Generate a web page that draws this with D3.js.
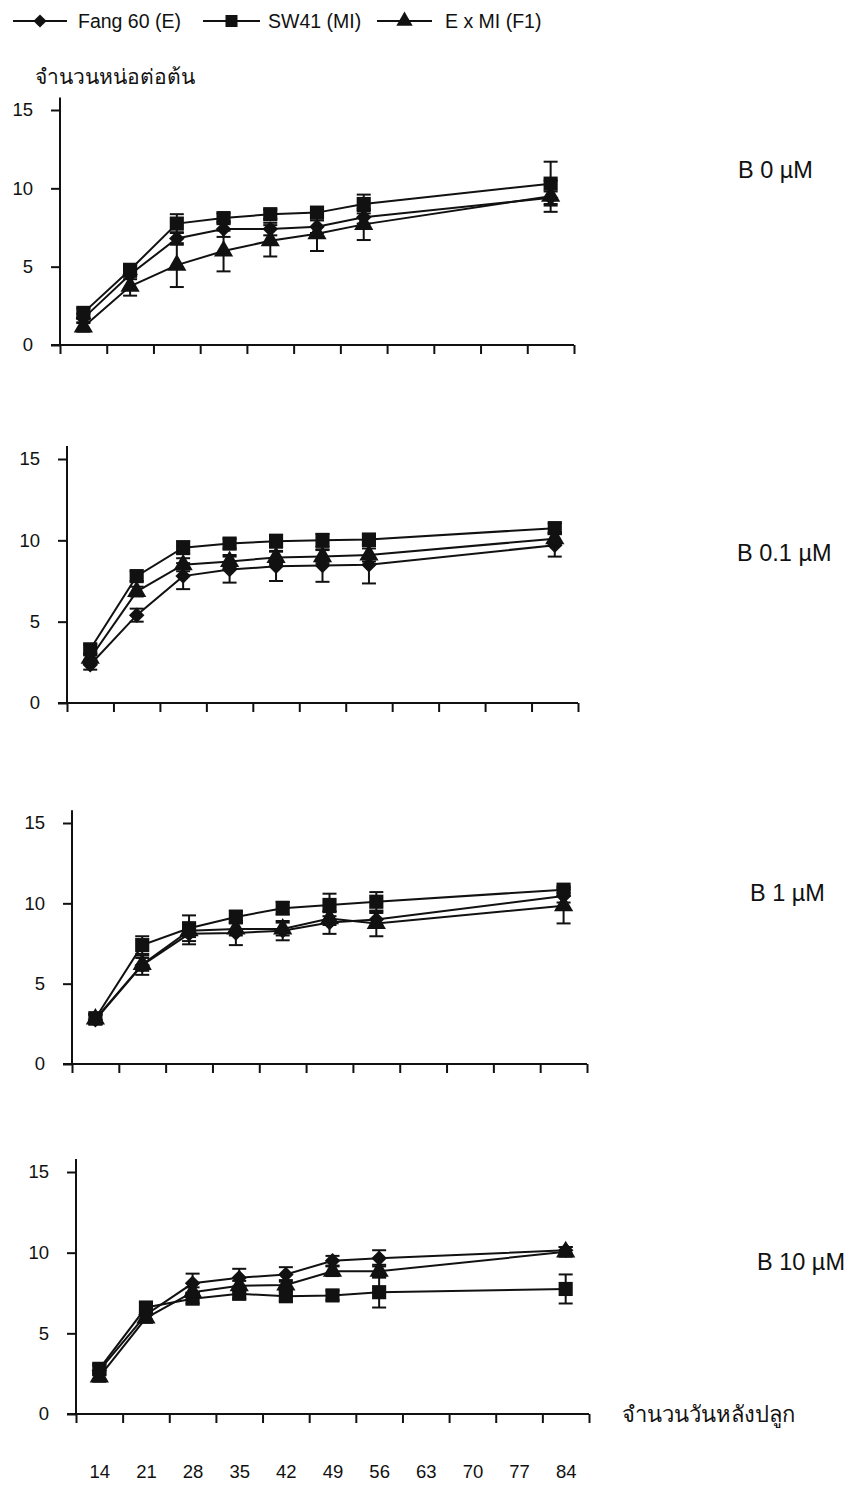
<!DOCTYPE html>
<html>
<head>
<meta charset="utf-8">
<script src="https://cdn.jsdelivr.net/npm/d3@7"></script>
<style>
  body { margin: 0; background: #fff; }
  text { font-family: "Liberation Sans", Arial, sans-serif; fill: #111; }
  .thai { font-family: "Noto Sans", "DejaVu Sans", sans-serif; }
</style>
</head>
<body>
<div id="chart"></div>
<script>
// x axis categories (days after planting) and the days that were measured
const days = [14, 21, 28, 35, 42, 49, 56, 63, 70, 77, 84];
const measured = [14, 21, 28, 35, 42, 49, 56, 84];

const seriesNames = ["Fang 60 (E)", "SW41 (MI)", "E x MI (F1)"];
const panelLabels = ["B 0 \u00b5M", "B 0.1 \u00b5M", "B 1 \u00b5M", "B 10 \u00b5M"];
const yTicks = [0, 5, 10, 15];

// B 0 uM
const b0Fang = [1.7, 4.5, 6.8, 7.4, 7.4, 7.55, 8.15, 9.4];
const b0Sw41 = [2.05, 4.8, 7.75, 8.1, 8.35, 8.45, 9.0, 10.3];
const b0F1 = [1.15, 3.75, 5.1, 6.0, 6.65, 7.1, 7.7, 9.5];
const b0FangErr = [0.3, 0.3, 0.4, 0.5, 0.4, 0.4, 0.4, 0.4];
const b0Sw41Err = [0.3, 0.3, 0.6, 0.3, 0.3, 0.3, 0.6, 1.4];
const b0F1Err = [0.3, 0.6, 1.4, 1.3, 1.0, 1.1, 1.0, 1.0];

// B 0.1 uM
const b01Fang = [2.35, 5.4, 7.8, 8.2, 8.4, 8.45, 8.5, 9.7];
const b01Sw41 = [3.3, 7.8, 9.55, 9.8, 9.95, 10.0, 10.05, 10.75];
const b01F1 = [2.75, 6.85, 8.5, 8.7, 8.95, 9.0, 9.1, 10.1];
const b01FangErr = [0.3, 0.4, 0.8, 0.8, 0.9, 1.0, 1.15, 0.7];
const b01Sw41Err = [0.3, 0.3, 0.4, 0.3, 0.4, 0.4, 0.3, 0.3];
const b01F1Err = [0.3, 0.3, 0.4, 0.4, 0.4, 0.4, 0.4, 0.4];

// B 1 uM
const b1Fang = [2.75, 6.15, 8.1, 8.15, 8.3, 8.8, 9.0, 10.45];
const b1Sw41 = [2.85, 7.4, 8.45, 9.15, 9.7, 9.9, 10.1, 10.85];
const b1F1 = [2.8, 6.2, 8.3, 8.4, 8.4, 9.05, 8.75, 9.85];
const b1FangErr = [0.3, 0.6, 0.65, 0.75, 0.6, 0.7, 0.4, 0.4];
const b1Sw41Err = [0.3, 0.55, 0.8, 0.4, 0.4, 0.7, 0.6, 0.2];
const b1F1Err = [0.3, 0.4, 0.4, 0.4, 0.4, 0.4, 0.8, 1.1];

// B 10 uM
const b10Fang = [2.7, 6.15, 8.1, 8.45, 8.65, 9.5, 9.65, 10.15];
const b10Sw41 = [2.8, 6.6, 7.15, 7.45, 7.3, 7.35, 7.55, 7.75];
const b10F1 = [2.3, 5.95, 7.55, 7.95, 8.0, 8.85, 8.85, 10.05];
const b10FangErr = [0.3, 0.3, 0.6, 0.55, 0.45, 0.3, 0.5, 0.2];
const b10Sw41Err = [0.3, 0.3, 0.3, 0.3, 0.3, 0.3, 0.95, 0.9];
const b10F1Err = [0.3, 0.3, 0.3, 0.3, 0.3, 0.3, 0.4, 0.3];

const panelData = [
  [[b0Fang, b0FangErr], [b0Sw41, b0Sw41Err], [b0F1, b0F1Err]],
  [[b01Fang, b01FangErr], [b01Sw41, b01Sw41Err], [b01F1, b01F1Err]],
  [[b1Fang, b1FangErr], [b1Sw41, b1Sw41Err], [b1F1, b1F1Err]],
  [[b10Fang, b10FangErr], [b10Sw41, b10Sw41Err], [b10F1, b10F1Err]]
];

const width = 856;
const height = 1490;

// each scanned panel sits a little differently on the page
const boxes = [
  { x0: 60, x1: 574, yTop: 110, yBot: 345, lx: 738, ly: 170 },
  { x0: 67, x1: 578, yTop: 459, yBot: 703, lx: 737, ly: 553 },
  { x0: 72, x1: 587, yTop: 823, yBot: 1064, lx: 750, ly: 893 },
  { x0: 76, x1: 589, yTop: 1172, yBot: 1414, lx: 757, ly: 1262 }
];

const svg = d3.select("#chart")
  .append("svg")
  .attr("width", width)
  .attr("height", height);

const symbolFor = [
  d3.symbol().type(d3.symbolSquare).size(120),
  d3.symbol().type(d3.symbolSquare).size(200),
  d3.symbol().type(d3.symbolTriangle).size(160)
];
const rotateFor = [45, 0, 0];

// legend
const legendPos = [
  { x: 13, w: 54, tx: 78 },
  { x: 203, w: 57, tx: 268 },
  { x: 377, w: 55, tx: 445 }
];
const legend = svg.append("g").attr("transform", "translate(0,21)");
seriesNames.forEach(function(name, i) {
  const p = legendPos[i];
  legend.append("line")
    .attr("x1", p.x).attr("x2", p.x + p.w)
    .attr("stroke", "#111").attr("stroke-width", 2);
  legend.append("path")
    .attr("d", symbolFor[i]())
    .attr("transform", "translate(" + (p.x + p.w / 2) + ",0) rotate(" + rotateFor[i] + ") scale(0.85)")
    .attr("fill", "#111");
  legend.append("text")
    .attr("x", p.tx)
    .attr("dy", "0.35em")
    .style("font-size", "19.5px")
    .text(name);
});

svg.append("text")
  .attr("class", "thai")
  .attr("x", 35)
  .attr("y", 84)
  .style("font-size", "21px")
  .text("จำนวนหน่อต่อต้น");

boxes.forEach(function(b, pi) {
  const g = svg.append("g");

  const x = d3.scaleLinear()
    .domain([10.5, 87.5])
    .range([b.x0, b.x1]);

  const y = d3.scaleLinear()
    .domain([0, 15])
    .range([b.yBot, b.yTop]);

  // x axis, ticks at the band edges
  const xAxis = g.append("g")
    .attr("transform", "translate(0," + b.yBot + ")")
    .call(d3.axisBottom(x)
      .tickValues(d3.range(10.5, 88, 7))
      .tickSize(9)
      .tickFormat(""));
  xAxis.select(".domain").remove();
  xAxis.selectAll("line").attr("stroke", "#111").attr("stroke-width", 2);
  g.append("line")
    .attr("x1", b.x0 - 9).attr("x2", b.x1)
    .attr("y1", b.yBot).attr("y2", b.yBot)
    .attr("stroke", "#111").attr("stroke-width", 2);

  // y axis
  const yAxis = g.append("g")
    .attr("transform", "translate(" + b.x0 + ",0)")
    .call(d3.axisLeft(y)
      .tickValues(yTicks)
      .tickSize(9)
      .tickPadding(18));
  yAxis.select(".domain").remove();
  yAxis.selectAll("line").attr("stroke", "#111").attr("stroke-width", 2);
  yAxis.selectAll("text")
    .style("font-size", "18.5px")
    .style("font-family", "'Liberation Sans', Arial, sans-serif")
    .attr("fill", "#111");
  g.append("line")
    .attr("x1", b.x0).attr("x2", b.x0)
    .attr("y1", b.yBot).attr("y2", y(15.8))
    .attr("stroke", "#111").attr("stroke-width", 2);

  const line = d3.line()
    .x(function(d) { return x(d[0]); })
    .y(function(d) { return y(d[1]); });

  panelData[pi].forEach(function(s, si) {
    const pts = measured.map(function(day, k) { return [day, s[0][k], s[1][k]]; });

    g.append("path")
      .datum(pts)
      .attr("d", line)
      .attr("fill", "none")
      .attr("stroke", "#111")
      .attr("stroke-width", 2);

    const eb = g.append("g")
      .selectAll("g")
      .data(pts)
      .enter()
      .append("g")
      .attr("stroke", "#111")
      .attr("stroke-width", 2);
    eb.append("line")
      .attr("x1", function(d) { return x(d[0]); })
      .attr("x2", function(d) { return x(d[0]); })
      .attr("y1", function(d) { return y(d[1] - d[2]); })
      .attr("y2", function(d) { return y(d[1] + d[2]); });
    eb.append("line")
      .attr("x1", function(d) { return x(d[0]) - 7; })
      .attr("x2", function(d) { return x(d[0]) + 7; })
      .attr("y1", function(d) { return y(d[1] - d[2]); })
      .attr("y2", function(d) { return y(d[1] - d[2]); });
    eb.append("line")
      .attr("x1", function(d) { return x(d[0]) - 7; })
      .attr("x2", function(d) { return x(d[0]) + 7; })
      .attr("y1", function(d) { return y(d[1] + d[2]); })
      .attr("y2", function(d) { return y(d[1] + d[2]); });

    g.append("g")
      .selectAll("path")
      .data(pts)
      .enter()
      .append("path")
      .attr("d", symbolFor[si]())
      .attr("transform", function(d) {
        return "translate(" + x(d[0]) + "," + y(d[1]) + ") rotate(" + rotateFor[si] + ")";
      })
      .attr("fill", "#111");
  });

  svg.append("text")
    .attr("x", b.lx)
    .attr("y", b.ly)
    .attr("dy", "0.35em")
    .style("font-size", "23.5px")
    .text(panelLabels[pi]);

  // day labels under the last panel only
  if (pi === boxes.length - 1) {
    const lab = svg.append("g")
      .attr("transform", "translate(0,1465)")
      .call(d3.axisBottom(x).tickValues(days).tickSize(0).tickPadding(0));
    lab.select(".domain").remove();
    lab.selectAll("text")
      .style("font-size", "18.5px")
      .style("font-family", "'Liberation Sans', Arial, sans-serif")
      .attr("fill", "#111");

    svg.append("text")
      .attr("class", "thai")
      .attr("x", 622)
      .attr("y", b.yBot)
      .attr("dy", "0.35em")
      .style("font-size", "22px")
      .text("จำนวนวันหลังปลูก");
  }
});
</script>
</body>
</html>
